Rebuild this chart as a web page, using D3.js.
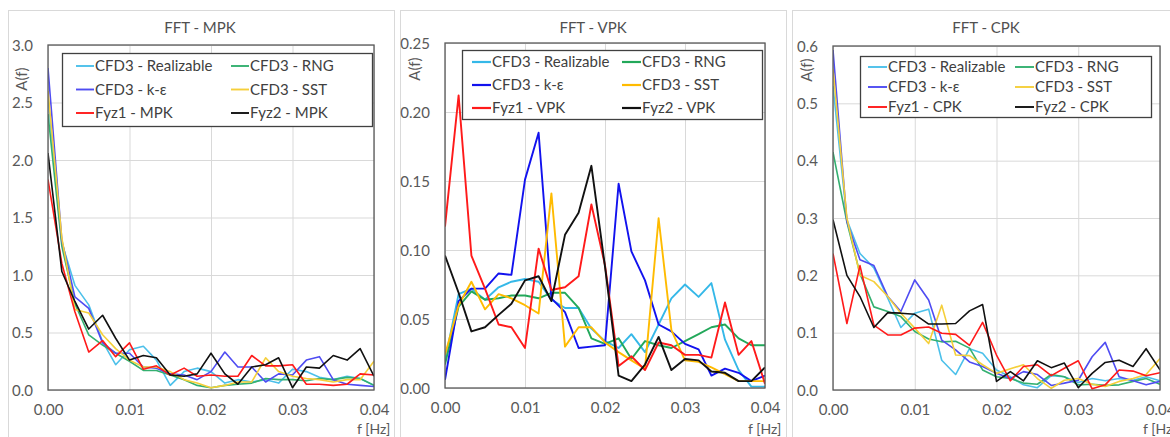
<!DOCTYPE html>
<html>
<head>
<meta charset="utf-8">
<script src="https://cdn.jsdelivr.net/npm/d3@7"></script>
<style>
  body { margin: 0; background: #fff; }
  svg { display: block; }
  text { font-family: Lato, "Open Sans", sans-serif; }
</style>
</head>
<body>
<svg id="chart" width="1170" height="437"></svg>
<script>
// Frequency bins [Hz]
const freq = [0.0000, 0.0017, 0.0033, 0.0050, 0.0067, 0.0083, 0.0100, 0.0117, 0.0133, 0.0150,
              0.0167, 0.0183, 0.0200, 0.0217, 0.0233, 0.0250, 0.0267, 0.0283, 0.0300, 0.0317,
              0.0333, 0.0350, 0.0367, 0.0383, 0.0400];
const freqTicks = [0, 0.01, 0.02, 0.03, 0.04];

const modelNames = ["CFD3 - Realizable", "CFD3 - RNG", "CFD3 - k-ε", "CFD3 - SST", "Fyz1", "Fyz2"];

// MPK amplitude spectra
const mpkRealizable = [2.55, 1.28, 0.91, 0.74, 0.42, 0.22, 0.35, 0.38, 0.26, 0.04, 0.16, 0.19, 0.16, 0.06, 0.09, 0.07, 0.09, 0.06, 0.18, 0.16, 0.11, 0.09, 0.12, 0.10, 0.04];
const mpkRNG        = [2.40, 1.25, 0.75, 0.48, 0.39, 0.32, 0.25, 0.17, 0.17, 0.13, 0.09, 0.04, 0.02, 0.04, 0.05, 0.06, 0.10, 0.09, 0.09, 0.08, 0.10, 0.09, 0.11, 0.10, 0.04];
const mpkKE         = [2.80, 1.30, 0.81, 0.71, 0.41, 0.32, 0.32, 0.20, 0.19, 0.14, 0.13, 0.09, 0.16, 0.33, 0.20, 0.20, 0.07, 0.14, 0.13, 0.26, 0.29, 0.09, 0.05, 0.04, 0.03];
const mpkSST        = [2.60, 1.32, 0.70, 0.67, 0.48, 0.36, 0.26, 0.20, 0.20, 0.16, 0.09, 0.06, 0.02, 0.04, 0.07, 0.07, 0.28, 0.16, 0.12, 0.10, 0.09, 0.07, 0.09, 0.09, 0.25];
const mpkFyz1       = [1.83, 1.10, 0.68, 0.33, 0.43, 0.29, 0.41, 0.18, 0.21, 0.13, 0.19, 0.12, 0.13, 0.12, 0.12, 0.30, 0.21, 0.21, 0.22, 0.05, 0.05, 0.04, 0.05, 0.14, 0.13];
const mpkFyz2       = [2.06, 1.03, 0.77, 0.53, 0.65, 0.45, 0.26, 0.30, 0.28, 0.13, 0.12, 0.14, 0.32, 0.14, 0.05, 0.20, 0.22, 0.28, 0.02, 0.20, 0.19, 0.30, 0.26, 0.36, 0.12];
const mpkTicks = [0, 0.5, 1.0, 1.5, 2.0, 2.5, 3.0];

// VPK amplitude spectra
const vpkRealizable = [0.020, 0.068, 0.072, 0.064, 0.073, 0.077, 0.079, 0.077, 0.064, 0.058, 0.058, 0.043, 0.034, 0.029, 0.039, 0.026, 0.046, 0.065, 0.075, 0.066, 0.076, 0.035, 0.013, 0.001, 0.001];
const vpkRNG        = [0.017, 0.059, 0.070, 0.064, 0.065, 0.067, 0.067, 0.065, 0.069, 0.069, 0.058, 0.036, 0.032, 0.036, 0.021, 0.034, 0.031, 0.029, 0.034, 0.039, 0.044, 0.046, 0.036, 0.031, 0.031];
const vpkKE         = [0.006, 0.063, 0.072, 0.072, 0.083, 0.082, 0.151, 0.185, 0.065, 0.055, 0.029, 0.030, 0.031, 0.148, 0.099, 0.078, 0.046, 0.041, 0.032, 0.028, 0.009, 0.014, 0.011, 0.005, 0.009];
const vpkSST        = [0.024, 0.060, 0.077, 0.057, 0.068, 0.065, 0.060, 0.054, 0.141, 0.030, 0.044, 0.044, 0.033, 0.026, 0.020, 0.014, 0.123, 0.042, 0.020, 0.019, 0.015, 0.010, 0.005, 0.005, 0.005];
const vpkFyz1       = [0.117, 0.212, 0.096, 0.072, 0.046, 0.044, 0.029, 0.101, 0.071, 0.073, 0.081, 0.133, 0.089, 0.016, 0.023, 0.013, 0.033, 0.031, 0.024, 0.024, 0.022, 0.062, 0.024, 0.034, 0.003];
const vpkFyz2       = [0.096, 0.069, 0.041, 0.044, 0.053, 0.061, 0.078, 0.081, 0.063, 0.111, 0.127, 0.161, 0.088, 0.009, 0.005, 0.017, 0.037, 0.013, 0.021, 0.020, 0.012, 0.011, 0.005, 0.005, 0.015];
const vpkTicks = [0, 0.05, 0.10, 0.15, 0.20, 0.25];

// CPK amplitude spectra
const cpkRealizable = [0.530, 0.297, 0.238, 0.213, 0.160, 0.109, 0.134, 0.141, 0.052, 0.027, 0.072, 0.064, 0.035, 0.023, 0.009, 0.004, 0.025, 0.023, 0.013, 0.020, 0.016, 0.020, 0.017, 0.023, 0.016];
const cpkRNG        = [0.415, 0.293, 0.203, 0.145, 0.137, 0.128, 0.102, 0.089, 0.084, 0.085, 0.073, 0.035, 0.023, 0.020, 0.012, 0.010, 0.027, 0.023, 0.009, 0.010, 0.008, 0.009, 0.015, 0.020, 0.010];
const cpkKE         = [0.593, 0.294, 0.227, 0.217, 0.163, 0.137, 0.192, 0.157, 0.087, 0.070, 0.049, 0.041, 0.029, 0.020, 0.032, 0.027, 0.008, 0.012, 0.017, 0.058, 0.083, 0.023, 0.016, 0.009, 0.015];
const cpkSST        = [0.560, 0.300, 0.200, 0.189, 0.163, 0.134, 0.108, 0.081, 0.148, 0.061, 0.060, 0.044, 0.029, 0.037, 0.044, 0.020, 0.003, 0.017, 0.020, 0.010, 0.006, 0.015, 0.020, 0.027, 0.055];
const cpkFyz1       = [0.238, 0.116, 0.217, 0.113, 0.096, 0.096, 0.108, 0.110, 0.099, 0.097, 0.078, 0.118, 0.061, 0.016, 0.041, 0.044, 0.025, 0.038, 0.051, 0.002, 0.009, 0.035, 0.033, 0.025, 0.030];
const cpkFyz2       = [0.297, 0.200, 0.163, 0.109, 0.135, 0.134, 0.132, 0.115, 0.115, 0.116, 0.138, 0.149, 0.015, 0.032, 0.016, 0.051, 0.039, 0.047, 0.004, 0.029, 0.048, 0.052, 0.041, 0.072, 0.035];
const cpkTicks = [0, 0.1, 0.2, 0.3, 0.4, 0.5, 0.6];

// Panel layout and styling
const panels = [
  {
    key: "MPK", series: [mpkRealizable, mpkRNG, mpkKE, mpkSST, mpkFyz1, mpkFyz2],
    yTicks: mpkTicks, yFmt: d3.format(".1f"),
    frame: { x: 8.5, w: 386 }, plot: { l: 48, r: 374, t: 45, b: 390 },
    titleX: 200, yLabel: { x: 22, y: 79 },
    legend: { x0: 62, x1: 372, y0: 53, y1: 126, rows: [66, 89.5, 113], col1: 76, col2: 231, sample: 18 },
    colors: ["#4cc0ea", "#34b070", "#4f4cf2", "#f5cf3a", "#ff1a1a", "#111111"],
    width: 1.6
  },
  {
    key: "VPK", series: [vpkRealizable, vpkRNG, vpkKE, vpkSST, vpkFyz1, vpkFyz2],
    yTicks: vpkTicks, yFmt: d3.format(".2f"),
    frame: { x: 400.5, w: 386 }, plot: { l: 445, r: 765, t: 43, b: 388 },
    titleX: 593, yLabel: { x: 415, y: 69 },
    legend: { x0: 462, x1: 762, y0: 50, y1: 119, rows: [62, 85, 108], col1: 472, col2: 622, sample: 19 },
    colors: ["#35b8e8", "#22a85a", "#1212ee", "#ffbb00", "#ff1a1a", "#111111"],
    width: 1.9
  },
  {
    key: "CPK", series: [cpkRealizable, cpkRNG, cpkKE, cpkSST, cpkFyz1, cpkFyz2],
    yTicks: cpkTicks, yFmt: d3.format(".1f"),
    frame: { x: 792.5, w: 400 }, plot: { l: 833, r: 1160, t: 46, b: 390 },
    titleX: 986, yLabel: { x: 807, y: 70 },
    legend: { x0: 860, x1: 1151, y0: 56, y1: 117, rows: [67, 87, 107], col1: 868, col2: 1015, sample: 19 },
    colors: ["#4cc0ea", "#34b070", "#4f4cf2", "#f5cf3a", "#ff1a1a", "#111111"],
    width: 1.6
  }
];

const svg = d3.select("#chart");
const fontSize = 15;
const textColor = "#595959";

panels.forEach(p => {
  const g = svg.append("g");

  // chart frame
  g.append("rect")
    .attr("x", p.frame.x).attr("y", 10.5)
    .attr("width", p.frame.w).attr("height", 450)
    .attr("fill", "#fff").attr("stroke", "#d9d9d9").attr("stroke-width", 1);

  const x = d3.scaleLinear().domain([0, 0.04]).range([p.plot.l, p.plot.r]);
  const yMax = p.yTicks[p.yTicks.length - 1];
  const y = d3.scaleLinear().domain([0, yMax]).range([p.plot.b, p.plot.t]);

  // gridlines
  g.append("g")
    .attr("transform", `translate(0,${p.plot.b})`)
    .call(d3.axisBottom(x).tickValues(freqTicks).tickSize(-(p.plot.b - p.plot.t)).tickFormat(""))
    .call(a => a.select(".domain").remove())
    .call(a => a.selectAll("line").attr("stroke", "#d9d9d9").attr("stroke-width", 1));
  g.append("g")
    .attr("transform", `translate(${p.plot.l},0)`)
    .call(d3.axisLeft(y).tickValues(p.yTicks).tickSize(-(p.plot.r - p.plot.l)).tickFormat(""))
    .call(a => a.select(".domain").remove())
    .call(a => a.selectAll("line").attr("stroke", "#d9d9d9").attr("stroke-width", 1));

  // tick labels
  const yAx = g.append("g")
    .attr("transform", `translate(${p.plot.l - 15},0)`)
    .call(d3.axisLeft(y).tickValues(p.yTicks).tickSize(0).tickFormat(p.yFmt));
  yAx.select(".domain").remove();
  yAx.selectAll("text").attr("x", 0).attr("dy", "0.35em")
    .attr("fill", textColor).style("font-size", fontSize + "px").style("font-family", "Lato, sans-serif");

  const xAx = g.append("g")
    .attr("transform", `translate(0,${p.plot.b + 14})`)
    .call(d3.axisBottom(x).tickValues(freqTicks).tickSize(0).tickFormat(d3.format(".2f")));
  xAx.select(".domain").remove();
  xAx.selectAll("text").attr("y", 0).attr("dy", "0.71em")
    .attr("fill", textColor).style("font-size", fontSize + "px").style("font-family", "Lato, sans-serif");

  // series lines, clipped to the plot area
  const clipId = "clip-" + p.key;
  svg.append("defs").append("clipPath").attr("id", clipId)
    .append("rect").attr("x", p.plot.l).attr("y", p.plot.t)
    .attr("width", p.plot.r - p.plot.l).attr("height", p.plot.b - p.plot.t);

  const line = d3.line().x((d, i) => x(freq[i])).y(d => y(d));
  const lines = g.append("g").attr("clip-path", `url(#${clipId})`);
  p.series.forEach((vals, si) => {
    lines.append("path").datum(vals)
      .attr("d", line)
      .attr("fill", "none")
      .attr("stroke", p.colors[si])
      .attr("stroke-width", p.width)
      .attr("stroke-linejoin", "round");
  });

  // plot area border
  g.append("rect")
    .attr("x", p.plot.l).attr("y", p.plot.t)
    .attr("width", p.plot.r - p.plot.l).attr("height", p.plot.b - p.plot.t)
    .attr("fill", "none").attr("stroke", "#595959").attr("stroke-width", 1.3);

  // title
  g.append("text")
    .attr("x", p.titleX).attr("y", 33)
    .attr("text-anchor", "middle")
    .attr("fill", "#505050").style("font-size", fontSize + "px")
    .text("FFT - " + p.key);

  // axis titles
  g.append("text")
    .attr("transform", `translate(${p.yLabel.x},${p.yLabel.y}) rotate(-90)`)
    .attr("text-anchor", "middle").attr("dy", "0.35em")
    .attr("fill", textColor).style("font-size", fontSize + "px")
    .text("A(f)");
  g.append("text")
    .attr("x", p.plot.r - 17).attr("y", 434)
    .attr("fill", textColor).style("font-size", "14px")
    .text("f [Hz]");

  // legend
  const L = p.legend;
  const lg = g.append("g");
  lg.append("rect")
    .attr("x", L.x0 + 0.5).attr("y", L.y0 + 0.5)
    .attr("width", L.x1 - L.x0).attr("height", L.y1 - L.y0)
    .attr("fill", "#fff").attr("stroke", "#404040").attr("stroke-width", 1.3);
  modelNames.forEach((name, si) => {
    const label = si >= 4 ? `${name} - ${p.key}` : name;
    const cx = si % 2 === 0 ? L.col1 : L.col2;
    const cy = L.rows[Math.floor(si / 2)];
    lg.append("line")
      .attr("x1", cx).attr("x2", cx + L.sample)
      .attr("y1", cy).attr("y2", cy)
      .attr("stroke", p.colors[si]).attr("stroke-width", p.width + 0.3);
    lg.append("text")
      .attr("x", cx + L.sample + 1).attr("y", cy).attr("dy", "0.35em")
      .attr("fill", "#404040").style("font-size", fontSize + "px")
      .text(label);
  });
});
</script>
</body>
</html>
